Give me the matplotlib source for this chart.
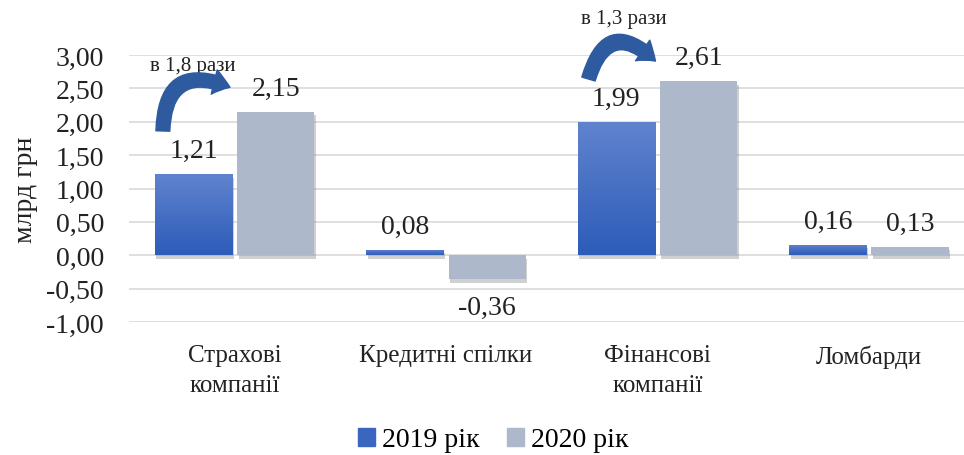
import numpy as np
import matplotlib
matplotlib.use("Agg")
import matplotlib.pyplot as plt
from matplotlib.patches import FancyArrowPatch, Patch
import matplotlib.patheffects as pe
from matplotlib.colors import LinearSegmentedColormap

plt.rcParams['font.family'] = ['Liberation Serif', 'DejaVu Serif']

categories = ["Страхові\nкомпанії", "Кредитні спілки", "Фінансові\nкомпанії", "Ломбарди"]
v2019 = [1.21, 0.08, 1.99, 0.16]
v2020 = [2.15, -0.36, 2.61, 0.13]
series_names = ["2019 рік", "2020 рік"]
ratio_labels = ["в 1,8 рази", "в 1,3 рази"]
yticks = [-1.0, -0.5, 0.0, 0.5, 1.0, 1.5, 2.0, 2.5, 3.0]

fig = plt.figure(figsize=(9.64, 4.56), dpi=100)
ax = fig.add_axes([129/964, 1 - 323/456, 835/964, (323 - 56)/456])

x = np.arange(len(categories))
w = 0.365
gap = 0.012
blue_cmap = LinearSegmentedColormap.from_list("b", ["#2d5cb9", "#6083ce"])
shadow = [pe.SimplePatchShadow(offset=(1, -2.5), shadow_rgbFace="#666666", alpha=0.3), pe.Normal()]

bars1 = ax.bar(x - w/2 - gap, v2019, w, color="#3a66c0", zorder=3, path_effects=shadow)
bars2 = ax.bar(x + w/2 + gap, v2020, w, color="#adb9ca", zorder=3, path_effects=shadow)

# gradient on blue bars
grad = np.linspace(0, 1, 100).reshape(-1, 1)
for b in bars1:
    x0, y0 = b.get_x(), b.get_y()
    bw, bh = b.get_width(), b.get_height()
    im = ax.imshow(grad, cmap=blue_cmap, origin="lower", aspect="auto",
                   extent=[x0, x0 + bw, y0, y0 + bh], zorder=3.5)
    im.set_clip_path(b)

for b, v in zip(list(bars1) + list(bars2), v2019 + v2020):
    cx = b.get_x() + b.get_width() / 2
    txt = f"{v:.2f}".replace(".", ",")
    if v >= 0:
        ax.annotate(txt, (cx, v), xytext=(0, 8), textcoords="offset points",
                    ha="center", va="bottom", fontsize=20, color="#222222")
    else:
        ax.annotate(txt, (cx, v), xytext=(0, -11), textcoords="offset points",
                    ha="center", va="top", fontsize=20, color="#222222")

# curved arrows
arrow_pts = [((-0.34, 1.82), (-0.01, 2.5)), ((1.67, 2.6), (2.0, 2.88))]
arrow_rad = [-0.75, -0.85]
text_pos = [(-0.2, 2.84), (1.84, 3.54)]
for (a, b), rad, lab, tp in zip(arrow_pts, arrow_rad, ratio_labels, text_pos):
    arr = FancyArrowPatch(a, b, connectionstyle=f"arc3,rad={rad}",
                          arrowstyle="simple,head_width=18,head_length=12,tail_width=10",
                          color="#2e5b9f", zorder=5, mutation_scale=1, clip_on=False)
    ax.add_patch(arr)
    ax.text(tp[0], tp[1], lab, ha="center", va="center", fontsize=15,
            color="#222222", clip_on=False)

ax.set_ylim(-1.0, 3.0)
ax.set_xlim(-0.5, 3.45)
ax.set_yticks(yticks)
ax.set_yticklabels([f"{t:.2f}".replace(".", ",") for t in yticks], fontsize=20, color="#222222")
ax.set_xticks(x)
ax.set_xticklabels(categories, fontsize=18, color="#222222", linespacing=1.45)
ax.tick_params(axis="y", length=0, pad=18)
ax.tick_params(axis="x", length=0, pad=16)
ax.set_ylabel("млрд грн", fontsize=20, color="#222222", labelpad=6)
ax.grid(axis="y", color="#d9d9d9", linewidth=1.2, zorder=0)
ax.set_axisbelow(True)
for s in ax.spines.values():
    s.set_visible(False)

handles = [Patch(color="#3a66c0"), Patch(color="#adb9ca")]
fig.legend(handles=handles, labels=series_names, loc="center",
           bbox_to_anchor=(493/964, 1 - 441/456), ncol=2, frameon=False,
           fontsize=20, handlelength=0.6, handleheight=0.6, handletextpad=0.25,
           columnspacing=1.0)

fig.savefig("out.png", dpi=100)
